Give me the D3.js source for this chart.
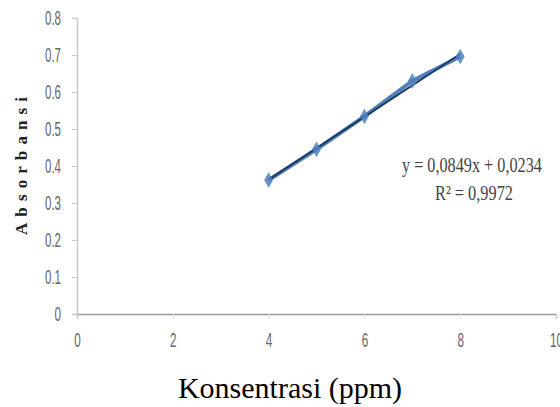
<!DOCTYPE html>
<html>
<head>
<meta charset="utf-8">
<script src="https://cdn.jsdelivr.net/npm/d3@7"></script>
<style>
  body { margin: 0; background: #fff; }
  svg { display: block; }
</style>
</head>
<body>
<svg id="chart" width="560" height="407"></svg>
<script>
// data
const konsentrasi = [4, 5, 6, 7, 8];
const absorbansi = [0.362, 0.445, 0.534, 0.630, 0.696];
const slope = 0.0849;
const intercept = 0.0234;
const xTicks = [0, 2, 4, 6, 8, 10];
const yTicks = [0, 0.1, 0.2, 0.3, 0.4, 0.5, 0.6, 0.7, 0.8];

const svg = d3.select('#chart');

const x = d3.scaleLinear().domain([0, 10]).range([77, 556]);
const y = d3.scaleLinear().domain([0, 0.8]).range([314, 18]);

const yFmt = (d) => (d === 0 ? '0' : d3.format('.1f')(d));

// squeeze a text horizontally to a target width (the original uses a narrow font)
function squeeze(node, targetW) {
	const t = d3.select(node);
	const tx = +t.attr('x') || 0;
	const ty = +t.attr('y') || 0;
	const w = node.getComputedTextLength();
	const s = Math.min(1, targetW / w);
	t.attr('x', 0).attr('y', 0).attr('transform', `translate(${tx},${ty}) scale(${s},1)`);
}
const narrowLen = (s) => s.replace('.', '').length * 6.5 + (s.includes('.') ? 3 : 0);

const styleTicks = (sel) => {
	sel.attr('font-size', null).attr('font-family', null);
	sel.selectAll('.tick text')
		.attr('fill', '#666')
		.style('font-family', '"Liberation Sans", sans-serif')
		.style('font-size', '21px')
		.each(function () { squeeze(this, narrowLen(this.textContent)); });
};

// y axis
const yAxis = svg.append('g')
	.attr('transform', `translate(${x(0)},0)`)
	.call(d3.axisLeft(y).tickValues(yTicks).tickSize(5).tickPadding(11).tickFormat(yFmt));
yAxis.select('.domain').attr('stroke', '#c8c8c8').attr('stroke-width', 1.5);
yAxis.selectAll('.tick line').attr('stroke', '#c8c8c8');
styleTicks(yAxis);

// x axis
const xAxis = svg.append('g')
	.attr('transform', `translate(0,${y(0)})`)
	.call(d3.axisBottom(x).tickValues(xTicks).tickSize(5).tickPadding(13));
xAxis.select('.domain').attr('stroke', '#999').attr('stroke-width', 1.5);
xAxis.selectAll('.tick line').attr('stroke', '#ddd');
styleTicks(xAxis);

// series line through the measured points
svg.append('path')
	.datum(konsentrasi.map((k, i) => [k, absorbansi[i]]))
	.attr('fill', 'none')
	.attr('stroke', '#4f81bd')
	.attr('stroke-width', 4)
	.attr('d', d3.line().x((d) => x(d[0])).y((d) => y(d[1])));

// linear trend line
svg.append('line')
	.attr('x1', x(4)).attr('y1', y(slope * 4 + intercept))
	.attr('x2', x(8)).attr('y2', y(slope * 8 + intercept))
	.attr('stroke', '#1f3b5c')
	.attr('stroke-width', 2);

// diamond markers
svg.selectAll('path.pt')
	.data(konsentrasi.map((k, i) => [k, absorbansi[i]]))
	.join('path')
	.attr('class', 'pt')
	.attr('d', d3.symbol().type(d3.symbolDiamond).size(70))
	.attr('transform', (d) => `translate(${x(d[0])},${y(d[1])})`)
	.attr('fill', '#4f81bd')
	.attr('opacity', 0.85);

// regression equation
const eq = svg.append('g')
	.style('font-family', '"Liberation Serif", serif')
	.style('font-size', '21px')
	.attr('fill', '#444');
eq.append('text')
	.attr('x', 402).attr('y', 172)
	.text('y = 0,0849x + 0,0234')
	.each(function () { squeeze(this, 140); });
eq.append('text')
	.attr('x', 435).attr('y', 200)
	.text('R² = 0,9972')
	.each(function () { squeeze(this, 78); });

// axis titles
svg.append('text')
	.attr('transform', `translate(27,166) rotate(-90)`)
	.attr('text-anchor', 'middle')
	.attr('textLength', 138).attr('lengthAdjust', 'spacing')
	.style('font-family', '"Liberation Serif", serif')
	.style('font-size', '17px')
	.style('font-weight', 'bold')
	.attr('fill', '#222')
	.text('Absorbansi');

svg.append('text')
	.attr('x', 290).attr('y', 398)
	.attr('text-anchor', 'middle')
	.style('font-family', '"Liberation Serif", serif')
	.style('font-size', '30px')
	.attr('fill', '#000')
	.text('Konsentrasi (ppm)');
</script>
</body>
</html>
